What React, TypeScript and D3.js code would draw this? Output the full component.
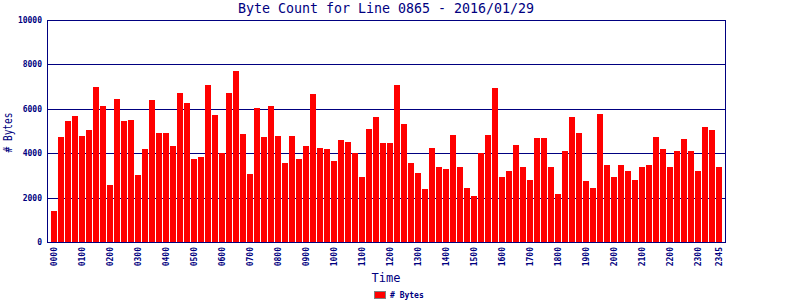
import React from "react";
import * as d3 from "d3";

const TITLE = "Byte Count for Line 0865 - 2016/01/29";
const Y_TITLE = "# Bytes";
const X_TITLE = "Time";
const SERIES_NAME = "# Bytes";

// 15-minute slots 0000..2345
const times: string[] = d3.range(96).map((i) => {
  const h = Math.floor(i / 4);
  const m = (i % 4) * 15;
  return String(h).padStart(2, "0") + String(m).padStart(2, "0");
});

const bytes: number[] = [
  1390, 4750, 5460, 5690, 4790, 5060, 6990, 6130, 2550, 6450, 5460, 5510,
  3000, 4210, 6400, 4930, 4930, 4340, 6720, 6270, 3720, 3810, 7080, 5730,
  4030, 6720, 7700, 4880, 3050, 6050, 4750, 6130, 4790, 3580, 4790, 3760,
  4340, 6670, 4250, 4210, 3670, 4610, 4520, 3990, 2910, 5100, 5640, 4480,
  4480, 7080, 5330, 3580, 3090, 2370, 4250, 3360, 3270, 4840, 3400, 2420,
  2060, 3990, 4840, 6940, 2910, 3220, 4390, 3360, 2780, 4700, 4700, 3400,
  2150, 4120, 5640, 4930, 2730, 2420, 5780, 3450, 2910, 3490, 3180, 2780,
  3400, 3490, 4750, 4210, 3360, 4080, 4660, 4080, 3220, 5190, 5060, 3360,
];

const xTickLabels: string[] = [
  "0000", "0100", "0200", "0300", "0400", "0500", "0600", "0700", "0800",
  "0900", "1000", "1100", "1200", "1300", "1400", "1500", "1600", "1700",
  "1800", "1900", "2000", "2100", "2200", "2300", "2345",
];
const yTicks: number[] = [0, 2000, 4000, 6000, 8000, 10000];

const NAVY = "#000080";
const RED = "#ff0000";
const MONO = "'DejaVu Sans Mono', 'Liberation Mono', monospace";

export default function App() {
  const W = 800, H = 300;
  const left = 47, right = 725, top = 20, bottom = 242;

  const x = d3
    .scaleBand<string>()
    .domain(times)
    .range([51, 51 + 96 * 7 - 1])
    .paddingInner(1 / 7)
    .paddingOuter(0);
  const y = d3.scaleLinear().domain([0, 10000]).range([bottom, top]);

  const cx = (left + right) / 2;

  return (
    <svg
      width={W}
      height={H}
      style={{ position: "absolute", left: 0, top: 0, background: "#fff" }}
      shapeRendering="crispEdges"
    >
      <rect x={0} y={0} width={W} height={H} fill="#fff" />
      {/* title */}
      <text
        x={cx}
        y={13}
        textAnchor="middle"
        fill={NAVY}
        fontFamily={MONO}
        fontSize={13.3}
      >
        {TITLE}
      </text>

      {/* gridlines */}
      {yTicks.map((t) => (
        <line
          key={"g" + t}
          x1={left}
          x2={right}
          y1={Math.round(y(t)) + 0.5}
          y2={Math.round(y(t)) + 0.5}
          stroke={NAVY}
          strokeWidth={1}
        />
      ))}

      {/* bars */}
      {bytes.map((v, i) => (
        <rect
          key={"b" + i}
          x={x(times[i])}
          y={y(v)}
          width={x.bandwidth()}
          height={bottom - y(v)}
          fill={RED}
        />
      ))}

      {/* frame */}
      <line x1={left + 0.5} x2={left + 0.5} y1={top} y2={bottom + 1} stroke={NAVY} />
      <line x1={right + 0.5} x2={right + 0.5} y1={top} y2={bottom + 1} stroke={NAVY} />
      <line x1={left} x2={right + 1} y1={top + 0.5} y2={top + 0.5} stroke={NAVY} />
      <line x1={left} x2={right + 1} y1={bottom + 0.5} y2={bottom + 0.5} stroke={NAVY} />

      {/* y tick labels */}
      {yTicks.map((t) => (
        <text
          key={"yl" + t}
          x={42}
          y={y(t) + 3}
          textAnchor="end"
          fill={NAVY}
          fontFamily={MONO}
          fontSize={8}
          fontWeight="bold"
        >
          {t}
        </text>
      ))}

      {/* x tick labels */}
      {xTickLabels.map((lab) => {
        const px = (x(lab) ?? 0) + x.bandwidth() / 2;
        return (
          <text
            key={"xl" + lab}
            transform={`translate(${px + 3},247) rotate(-90)`}
            textAnchor="end"
            fill={NAVY}
            fontFamily={MONO}
            fontSize={8}
            fontWeight="bold"
          >
            {lab}
          </text>
        );
      })}

      {/* axis titles */}
      <text
        transform={`translate(12,132.5) rotate(-90)`}
        textAnchor="middle"
        fill={NAVY}
        fontFamily={MONO}
        fontSize={12}
        textLength={40}
        lengthAdjust="spacingAndGlyphs"
      >
        {Y_TITLE}
      </text>
      <text
        x={cx}
        y={282}
        textAnchor="middle"
        fill={NAVY}
        fontFamily={MONO}
        fontSize={12}
      >
        {X_TITLE}
      </text>

      {/* legend */}
      <rect x={374.5} y={291.5} width={11} height={7} fill={RED} stroke="#808080" />
      <text
        x={390}
        y={298}
        fill={NAVY}
        fontFamily={MONO}
        fontSize={8}
        fontWeight="bold"
      >
        {SERIES_NAME}
      </text>
    </svg>
  );
}
